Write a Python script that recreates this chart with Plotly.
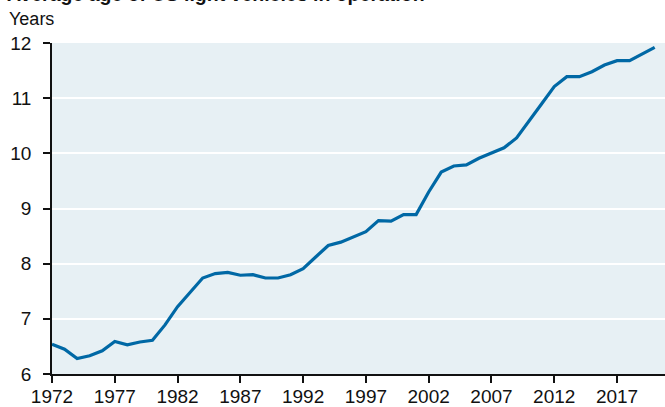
import plotly.graph_objects as go

years = list(range(1972, 2021))
avg_age = [6.54, 6.45, 6.28, 6.33, 6.42, 6.59, 6.53, 6.58, 6.61, 6.89,
           7.22, 7.49, 7.74, 7.82, 7.84, 7.79, 7.80, 7.74, 7.74, 7.80,
           7.91, 8.12, 8.33, 8.39, 8.48, 8.58, 8.78, 8.77, 8.89, 8.89,
           9.30, 9.66, 9.77, 9.79, 9.91, 10.00, 10.10, 10.28, 10.60, 10.90,
           11.21, 11.39, 11.39, 11.48, 11.60, 11.68, 11.68, 11.80, 11.92]
x_ticks = [1972, 1977, 1982, 1987, 1992, 1997, 2002, 2007, 2012, 2017]
y_ticks = [6, 7, 8, 9, 10, 11, 12]

title_text = "Average age of US light vehicles in operation"
unit_text = "Years"

FONT = "Liberation Sans, Arial, sans-serif"

fig = go.Figure()
fig.add_trace(go.Scatter(x=years, y=avg_age, mode="lines",
                         line=dict(color="#0068A5", width=3.2), hoverinfo="skip"))

fig.update_layout(
    template="none",
    width=665, height=407,
    margin=dict(l=52, r=0, t=43, b=33, pad=0),
    paper_bgcolor="white",
    plot_bgcolor="#E7F0F4",
    showlegend=False,
    font=dict(family=FONT, size=19, color="#111111"),
)
fig.update_xaxes(
    automargin=False,
    range=[1972, 2020.82], tickvals=x_ticks, ticktext=[str(t) for t in x_ticks],
    showgrid=False, zeroline=False, showline=True, linecolor="#111111", linewidth=1.5,
    ticks="outside", ticklen=7, tickwidth=1.5, tickcolor="#111111",
    tickfont=dict(family=FONT, size=19, color="#111111"),
    ticklabelstandoff=-3,
)
fig.update_yaxes(
    automargin=False,
    range=[6, 12], tickvals=y_ticks,
    showgrid=True, gridcolor="white", gridwidth=1.5, zeroline=False,
    showline=True, linecolor="#111111", linewidth=1.5,
    ticks="outside", ticklen=7, tickwidth=1.5, tickcolor="#111111",
    tickfont=dict(family=FONT, size=19, color="#111111"),
    ticklabelstandoff=8,
)
fig.add_annotation(text="<b>" + title_text + "</b>", xref="paper", yref="paper",
                   x=-52/613, y=(374-7)/331, xanchor="left", yanchor="bottom",
                   showarrow=False, xshift=5,
                   font=dict(family=FONT, size=19.5, color="#111111"))
fig.add_annotation(text=unit_text, xref="paper", yref="paper",
                   x=-52/613, y=(374-31)/331, xanchor="left", yanchor="bottom",
                   showarrow=False, xshift=7,
                   font=dict(family=FONT, size=18, color="#111111"))

fig.write_html("out.html", config={"displayModeBar": False},
               post_script="document.body.style.margin='0';document.body.style.overflow='hidden';")
